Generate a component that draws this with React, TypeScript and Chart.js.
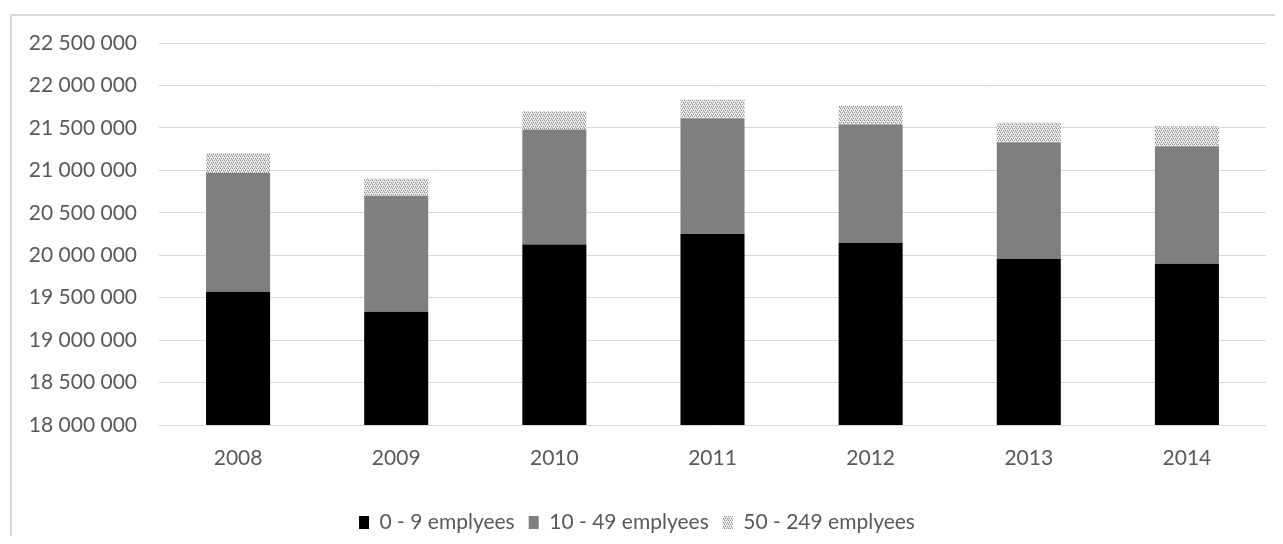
import React, { useEffect, useRef } from "react";
import { Chart, registerables } from "chart.js";

Chart.register(...registerables);

const years = ["2008", "2009", "2010", "2011", "2012", "2013", "2014"];
const micro = [19570000, 19335000, 20125000, 20250000, 20145000, 19955000, 19900000];
const small = [1400000, 1365000, 1355000, 1365000, 1395000, 1375000, 1385000];
const medium = [235000, 200000, 215000, 220000, 225000, 230000, 235000];
const seriesNames = ["0 - 9 emplyees", "10 - 49 emplyees", "50 - 249 emplyees"];
const Y_MIN = 18000000;
const Y_MAX = 22500000;
const Y_STEP = 500000;

function makePattern(): CanvasPattern | string {
  const c = document.createElement("canvas");
  c.width = 4;
  c.height = 4;
  const ctx = c.getContext("2d");
  if (!ctx) return "#cccccc";
  ctx.fillStyle = "#f4f4f4";
  ctx.fillRect(0, 0, 4, 4);
  ctx.fillStyle = "#8c8c8c";
  ctx.fillRect(0, 0, 1, 1);
  ctx.fillRect(2, 0, 1, 1);
  ctx.fillRect(1, 2, 1, 1);
  ctx.fillRect(3, 2, 1, 1);
  ctx.fillStyle = "#bcbcbc";
  ctx.fillRect(1, 1, 1, 1);
  ctx.fillRect(3, 3, 1, 1);
  ctx.fillRect(0, 3, 1, 1);
  const p = ctx.createPattern(c, "repeat");
  return p || "#cccccc";
}

const fmt = (v: number) => String(Math.round(v)).replace(/\B(?=(\d{3})+(?!\d))/g, " ");

export default function App() {
  const ref = useRef<HTMLCanvasElement | null>(null);
  useEffect(() => {
    if (!ref.current) return;
    const font = { family: "Lato, 'Open Sans', sans-serif", size: 21 };
    const chart = new Chart(ref.current, {
      type: "bar",
      data: {
        labels: years,
        datasets: [
          { label: seriesNames[0], data: micro, backgroundColor: "#000000", borderWidth: 0 },
          { label: seriesNames[1], data: small, backgroundColor: "#7f7f7f", borderWidth: 0 },
          { label: seriesNames[2], data: medium, backgroundColor: makePattern() as any, borderWidth: 0 },
        ],
      },
      options: {
        animation: false,
        responsive: false,
        maintainAspectRatio: false,
        barPercentage: 0.405,
        categoryPercentage: 1,
        layout: { padding: { top: 35, right: 9, left: 0, bottom: -7 } },
        plugins: {
          tooltip: { enabled: false },
          legend: {
            position: "bottom",
            labels: {
              font,
              color: "#595959",
              boxWidth: 10,
              boxHeight: 13,
              padding: 14,
            },
          },
        },
        scales: {
          x: {
            stacked: true,
            grid: { display: false, drawTicks: false },
            border: { display: false },
            ticks: { font, color: "#595959", padding: 21 },
            afterFit: (s: any) => {
              s.height = 73;
            },
          },
          y: {
            stacked: true,
            min: Y_MIN,
            max: Y_MAX,
            grid: { color: "#d9d9d9", lineWidth: 1, drawTicks: false },
            border: { display: false },
            ticks: {
              stepSize: Y_STEP,
              font,
              color: "#595959",
              padding: 22,
              callback: (v: any) => fmt(Number(v)),
            },
            afterFit: (s: any) => {
              s.width = 151;
            },
          },
        },
      },
    } as any);
    return () => chart.destroy();
  }, []);
  return (
    <div style={{ position: "relative", width: 1267, height: 528, overflow: "hidden" }}>
      <div
        style={{
          position: "absolute",
          left: 2,
          top: 6,
          width: 1400,
          height: 700,
          border: "2px solid #d9d9d9",
          boxSizing: "border-box",
        }}
      />
      <canvas
        ref={ref}
        width={1267}
        height={528}
        style={{ position: "absolute", left: 0, top: 0, width: 1267, height: 528 }}
      />
    </div>
  );
}
